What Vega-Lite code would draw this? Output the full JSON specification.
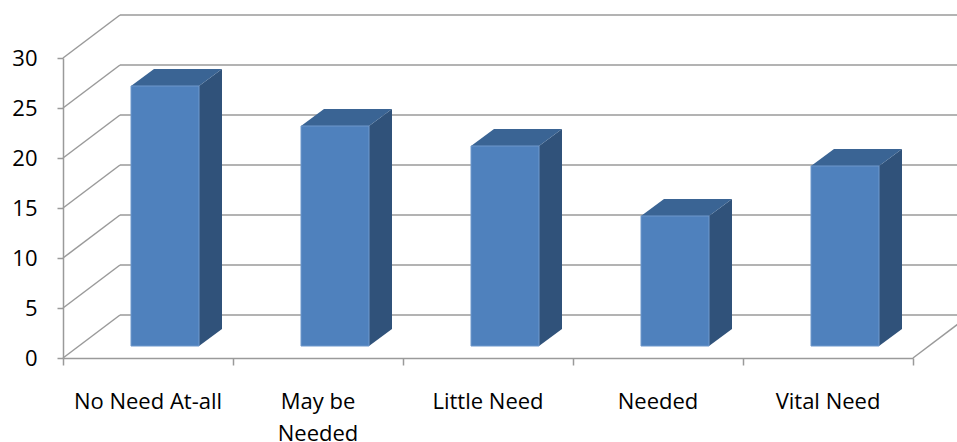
{
  "$schema": "https://vega.github.io/schema/vega-lite/v6.json",
  "width": 850,
  "height": 300,
  "autosize": {"type": "none"},
  "padding": {"left": 63, "top": 58, "right": 44, "bottom": 84},
  "background": "#ffffff",
  "config": {
    "view": {"stroke": null},
    "font": "Open Sans",
    "axis": {
      "grid": false,
      "domainColor": "#9a9a9a",
      "domainWidth": 1.5,
      "tickColor": "#9a9a9a",
      "tickWidth": 1.5,
      "labelFont": "Open Sans",
      "labelFontSize": 22,
      "labelColor": "#000000"
    }
  },
  "datasets": {
    "needs": [
      {"category": "No Need At-all", "value": 26},
      {"category": "May be Needed", "value": 22},
      {"category": "Little Need", "value": 20},
      {"category": "Needed", "value": 13},
      {"category": "Vital Need", "value": 18}
    ],
    "levels": [
      {"level": 0}, {"level": 5}, {"level": 10}, {"level": 15},
      {"level": 20}, {"level": 25}, {"level": 30}
    ]
  },
  "resolve": {"scale": {"x": "independent"}, "axis": {"x": "independent"}},
  "layer": [
    {
      "layer": [
        {
          "description": "back wall gridlines",
          "data": {"name": "levels"},
          "transform": [{"calculate": "datum.level + 4.3", "as": "backY"}],
          "mark": {"type": "rule", "color": "#9a9a9a", "strokeWidth": 1.5},
          "encoding": {
            "x": {"datum": 0.3353, "type": "quantitative", "scale": {"domain": [0, 5], "nice": false, "zero": false},
                  "axis": {"values": [0, 1, 2, 3, 4, 5], "labels": false, "tickSize": 7, "title": null}},
            "x2": {"datum": 5.3353},
            "y": {"field": "backY", "type": "quantitative", "scale": {"domain": [0, 30], "nice": false},
                  "axis": {"values": [0, 5, 10, 15, 20, 25, 30], "tickSize": 6, "labelPadding": 20, "title": null}},
            "y2": {"field": "backY"}
          }
        },
        {
          "description": "side wall diagonals",
          "data": {"name": "levels"},
          "transform": [{"calculate": "datum.level + 4.3", "as": "backY"}],
          "mark": {"type": "rule", "color": "#9a9a9a", "strokeWidth": 1.5},
          "encoding": {
            "x": {"datum": 0, "type": "quantitative", "scale": {"domain": [0, 5], "nice": false, "zero": false}},
            "x2": {"datum": 0.3353},
            "y": {"field": "level", "type": "quantitative", "title": null},
            "y2": {"field": "backY"}
          }
        },
        {
          "description": "right edge of the floor",
          "data": {"name": "levels"},
          "transform": [{"filter": "datum.level == 0"}, {"calculate": "datum.level + 4.3", "as": "backY"}],
          "mark": {"type": "rule", "color": "#9a9a9a", "strokeWidth": 1.5},
          "encoding": {
            "x": {"datum": 5, "type": "quantitative", "scale": {"domain": [0, 5], "nice": false, "zero": false}},
            "x2": {"datum": 5.3353},
            "y": {"field": "level", "type": "quantitative", "title": null},
            "y2": {"field": "backY"}
          }
        },
        {
          "description": "right-hand side faces of the columns",
          "data": {"name": "needs"},
          "transform": [
            {"window": [{"op": "row_number", "as": "rn"}]},
            {"calculate": "[0, 1]", "as": "k"},
            {"flatten": ["k"]},
            {"calculate": "datum.rn - 0.2 + 0.1353 * datum.k", "as": "sx"},
            {"calculate": "1.2 + 1.7 * datum.k", "as": "sy0"},
            {"calculate": "datum.value + 1.2 + 1.7 * datum.k", "as": "sy1"}
          ],
          "mark": {"type": "area", "orient": "vertical", "color": "#30527a", "opacity": 1},
          "encoding": {
            "x": {"field": "sx", "type": "quantitative", "scale": {"domain": [0, 5], "nice": false, "zero": false}, "title": null},
            "y": {"field": "sy1", "type": "quantitative", "stack": null, "title": null},
            "y2": {"field": "sy0"},
            "detail": {"field": "category"}
          }
        },
        {
          "description": "top faces of the columns",
          "data": {"name": "needs"},
          "transform": [
            {"window": [{"op": "row_number", "as": "rn"}]},
            {"calculate": "[0, 1]", "as": "k"},
            {"flatten": ["k"]},
            {"calculate": "datum.rn - 0.6 + 0.1353 * datum.k", "as": "tx0"},
            {"calculate": "datum.rn - 0.2 + 0.1353 * datum.k", "as": "tx1"},
            {"calculate": "datum.value + 1.2 + 1.7 * datum.k", "as": "ty"}
          ],
          "mark": {"type": "area", "orient": "horizontal", "color": "#3a6494", "opacity": 1},
          "encoding": {
            "y": {"field": "ty", "type": "quantitative", "stack": null, "title": null},
            "x": {"field": "tx0", "type": "quantitative", "stack": null, "scale": {"domain": [0, 5], "nice": false, "zero": false}, "title": null},
            "x2": {"field": "tx1"},
            "detail": {"field": "category"}
          }
        }
      ]
    },
    {
      "description": "front faces of the columns, with the category labels",
      "data": {"name": "needs"},
      "mark": {
        "type": "bar",
        "color": "#4f81bd",
        "stroke": "#6e98cc",
        "strokeWidth": 1,
        "width": {"band": 0.4},
        "xOffset": 17,
        "yOffset": -12,
        "y2Offset": -12
      },
      "encoding": {
        "x": {
          "field": "category",
          "type": "nominal",
          "sort": null,
          "scale": {"paddingInner": 0, "paddingOuter": 0},
          "axis": {
            "orient": "bottom",
            "ticks": false,
            "tickSize": 0,
            "domain": false,
            "labelAngle": 0,
            "labelPadding": 33,
            "labelBaseline": "top",
            "labelLineHeight": 32,
            "labelExpr": "datum.label == 'May be Needed' ? ['May be', 'Needed'] : datum.label",
            "title": null
          }
        },
        "y": {"field": "value", "type": "quantitative", "stack": null, "title": null},
        "y2": {"datum": 0}
      }
    }
  ]
}
